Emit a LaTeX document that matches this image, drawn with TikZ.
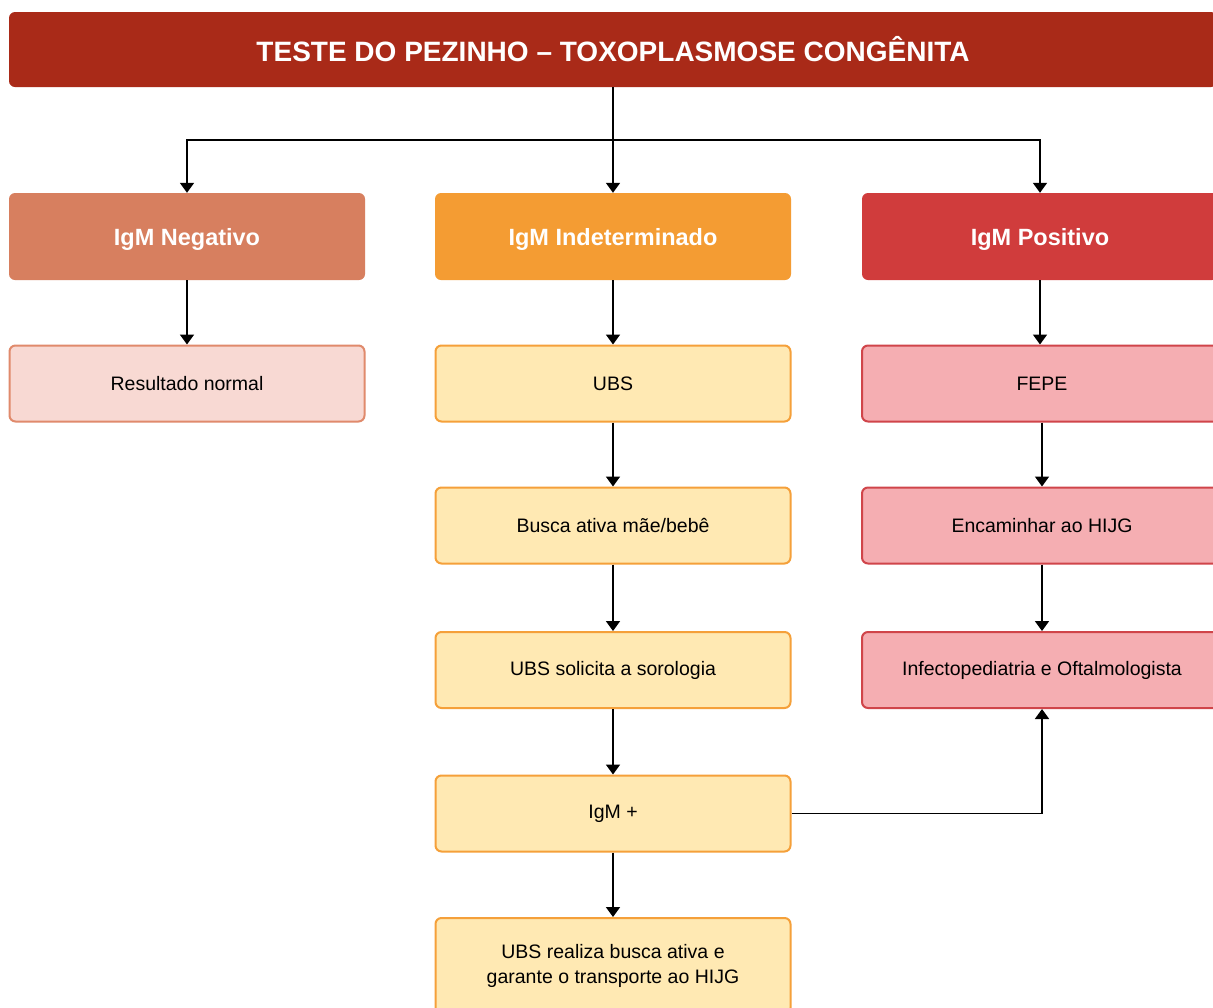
\documentclass[tikz,border=0pt]{standalone}
\usepackage{fontspec}
\setmainfont{Liberation Sans}
\usetikzlibrary{arrows.meta}
\definecolor{titlered}{HTML}{A92A18}
\definecolor{negfill}{HTML}{D77F5F}
\definecolor{indfill}{HTML}{F49C33}
\definecolor{posfill}{HTML}{D03C3C}
\definecolor{negbox}{HTML}{F8D9D3}
\definecolor{negline}{HTML}{E08A6C}
\definecolor{indbox}{HTML}{FFE9B3}
\definecolor{indline}{HTML}{F5A03A}
\definecolor{posbox}{HTML}{F5AEB2}
\definecolor{posline}{HTML}{D0454A}
\tikzset{
  hdr/.style={rectangle, rounded corners=6pt, minimum width=356pt, minimum height=87pt,
    text=white, font=\fontsize{23.5}{27}\selectfont\bfseries, inner sep=0pt, text depth=0pt},
  stepbox/.style={rectangle, rounded corners=6pt, minimum width=355pt, minimum height=76pt,
    line width=2pt, font=\fontsize{19.5}{25}\selectfont, inner sep=0pt, align=center},
  negstep/.style={stepbox, fill=negbox, draw=negline},
  indstep/.style={stepbox, fill=indbox, draw=indline},
  posstep/.style={stepbox, fill=posbox, draw=posline},
  arr/.style={line width=1.8pt, -{Triangle[width=14pt,length=10pt]}},
  ln/.style={line width=1.8pt}
}
\begin{document}
\begin{tikzpicture}[x=1pt,y=-1pt]
\useasboundingbox (0,0) rectangle (1213,1007);
\clip (0,0) rectangle (1213,1007);
\fill[white] (0,0) rectangle (1213,1007);
\node[rectangle, rounded corners=6pt, fill=titlered, minimum width=1208pt, minimum height=75pt,
  text=white, font=\fontsize{28}{33}\selectfont\bfseries, inner sep=0pt] (title) at (613,49.5)
  {TESTE DO PEZINHO – TOXOPLASMOSE CONGÊNITA};
\node[hdr, fill=negfill] (neg) at (187,236.5) {IgM Negativo};
\node[hdr, fill=indfill] (ind) at (613,236.5) {IgM Indeterminado};
\node[hdr, fill=posfill] (pos) at (1040,236.5) {IgM Positivo};
\node[negstep] (norm) at (187,383.5) {Resultado normal};
\node[indstep] (ubs) at (613,383.5) {UBS};
\node[indstep] (busca) at (613,525.5) {Busca ativa mãe/bebê};
\node[indstep] (sol) at (613,670) {UBS solicita a sorologia};
\node[indstep] (igmp) at (613,813.5) {IgM +};
\node[indstep, minimum height=96pt] (real) at (613,966) {UBS realiza busca ativa e\\garante o transporte ao HIJG};
\node[posstep, minimum width=360pt] (fepe) at (1042,383.5) {FEPE};
\node[posstep, minimum width=360pt] (enc) at (1042,525.5) {Encaminhar ao HIJG};
\node[posstep, minimum width=360pt] (inf) at (1042,670) {Infectopediatria e Oftalmologista};
\coordinate (split) at (613,140);
\draw[arr] (title.south) -- (ind.north);
\draw[arr] (split) -| (neg.north);
\draw[arr] (split) -| (pos.north);
\draw[arr] (neg.south) -- (norm.north);
\draw[arr] (ind.south) -- (ubs.north);
\draw[arr] (pos.south) -- (pos.south |- fepe.north);
\draw[arr] (ubs.south) -- (busca.north);
\draw[arr] (busca.south) -- (sol.north);
\draw[arr] (sol.south) -- (igmp.north);
\draw[arr] (igmp.south) -- (real.north);
\draw[arr] (fepe.south) -- (enc.north);
\draw[arr] (enc.south) -- (inf.north);
\draw[arr] (igmp.east) -| (inf.south);
\end{tikzpicture}
\end{document}
